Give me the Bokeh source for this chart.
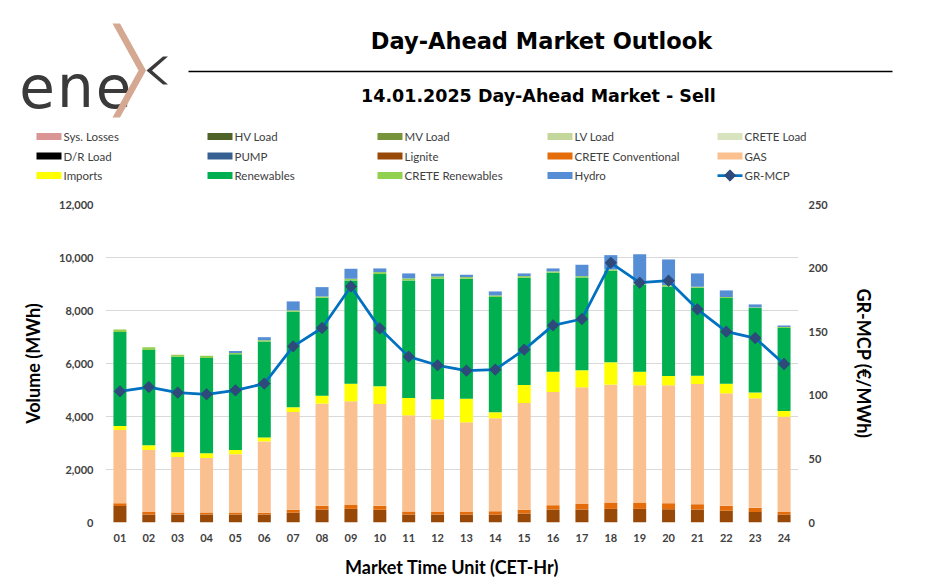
from bokeh.plotting import figure
from bokeh.models import Range1d, FactorRange, LinearAxis, NumeralTickFormatter, FixedTicker, ColumnDataSource
from bokeh.layouts import column
from bokeh.embed import file_html
from bokeh.resources import INLINE
from bokeh.core.properties import value

# ---------------- data ----------------
hours = ["01", "02", "03", "04", "05", "06", "07", "08", "09", "10", "11", "12",
         "13", "14", "15", "16", "17", "18", "19", "20", "21", "22", "23", "24"]

sys_losses = [0, 0, 0, 0, 0, 0, 0, 0, 0, 0, 0, 0, 0, 0, 0, 0, 0, 0, 0, 0, 0, 0, 0, 0]
hv_load = [0, 0, 0, 0, 0, 0, 0, 0, 0, 0, 0, 0, 0, 0, 0, 0, 0, 0, 0, 0, 0, 0, 0, 0]
mv_load = [0, 0, 0, 0, 0, 0, 0, 0, 0, 0, 0, 0, 0, 0, 0, 0, 0, 0, 0, 0, 0, 0, 0, 0]
lv_load = [0, 0, 0, 0, 0, 0, 0, 0, 0, 0, 0, 0, 0, 0, 0, 0, 0, 0, 0, 0, 0, 0, 0, 0]
crete_load = [0, 0, 0, 0, 0, 0, 0, 0, 0, 0, 0, 0, 0, 0, 0, 0, 0, 0, 0, 0, 0, 0, 0, 0]
dr_load = [0, 0, 0, 0, 0, 0, 0, 0, 0, 0, 0, 0, 0, 0, 0, 0, 0, 0, 0, 0, 0, 0, 0, 0]
pump = [0, 0, 0, 0, 0, 0, 0, 0, 0, 0, 0, 0, 0, 0, 0, 0, 0, 0, 0, 0, 0, 0, 0, 0]
lignite = [626, 301, 301, 301, 301, 301, 364, 489, 514, 477, 301, 301,
           301, 301, 339, 489, 489, 514, 514, 501, 489, 439, 400, 301]
crete_conv = [101, 99, 76, 76, 76, 70, 113, 139, 151, 151, 114, 99,
              99, 124, 138, 163, 213, 239, 226, 226, 201, 189, 152, 99]
gas = [2764, 2337, 2096, 2059, 2198, 2689, 3694, 3857, 3908, 3844, 3630, 3494,
       3381, 3507, 4033, 4272, 4399, 4449, 4437, 4450, 4537, 4246, 4134, 3595]
imports = [151, 177, 177, 176, 162, 151, 175, 301, 667, 667, 654, 754,
           893, 226, 678, 769, 641, 841, 516, 351, 314, 366, 215, 214]
renewables = [3544, 3594, 3608, 3595, 3608, 3619, 3607, 3696, 3895, 4235, 4436, 4550,
              4524, 4349, 4048, 3732, 3506, 3457, 3291, 3381, 3318, 3229, 3190, 3128]
crete_ren = [101, 101, 75, 88, 50, 50, 51, 50, 63, 75, 75, 88,
             63, 63, 62, 49, 50, 50, 38, 50, 38, 38, 26, 38]
hydro = [0, 0, 0, 0, 76, 113, 339, 350, 377, 139, 189, 101,
         88, 150, 101, 114, 428, 539, 1105, 968, 502, 251, 113, 63]
gr_mcp = [103.1, 106.5, 102.1, 100.8, 103.9, 109.2, 138.5, 152.9, 185.6, 152.6, 130.4, 123.6,
          119.4, 120.2, 135.9, 155.0, 160.0, 204.2, 188.5, 190.1, 167.6, 150.0, 145.0, 124.6]

series_names = ["Sys. Losses", "HV Load", "MV Load", "LV Load", "CRETE Load",
                "D/R Load", "PUMP", "Lignite", "CRETE Conventional", "GAS",
                "Imports", "Renewables", "CRETE Renewables", "Hydro"]
series_values = [sys_losses, hv_load, mv_load, lv_load, crete_load,
                 dr_load, pump, lignite, crete_conv, gas,
                 imports, renewables, crete_ren, hydro]
series_colors = ["#D99694", "#4F6228", "#77933C", "#C3D69B", "#D7E4BD",
                 "#000000", "#376092", "#984807", "#E46C0A", "#FAC090",
                 "#FFFF00", "#00B050", "#92D050", "#558ED5"]
line_name = "GR-MCP"
line_color = "#0070C0"
marker_color = "#2E4A7A"

left_ticks = [0, 2000, 4000, 6000, 8000, 10000, 12000]
right_ticks = [0, 50, 100, 150, 200, 250]

title_text = "Day-Ahead Market Outlook"
subtitle_text = "14.01.2025  Day-Ahead Market - Sell"

# ---------------- layout constants (page pixels) ----------------
W = 944
HDR_H = 190
CH_H = 392
FL, FR, FT, FB = 105, 798, 204, 522
LABEL_FONT = "Lato"

# ---------------- header (logo, titles, legend) ----------------
hdr = figure(width=W, height=HDR_H, x_range=Range1d(0, W), y_range=Range1d(HDR_H, 0),
             toolbar_location=None, output_backend="svg", min_border=0,
             x_axis_location=None, y_axis_location=None, outline_line_color=None)
hdr.grid.visible = False

# logo
hdr.text(x=[36.5, 75, 113], y=[86, 86, 86], text=["e", "n", "e"],
         text_font=value("DejaVu Sans"), text_font_size="58px", text_color="#3A3A3A",
         text_align="center", text_baseline="alphabetic")
hdr.patch(x=[112, 119.5, 145.5, 119.5, 112, 138], y=[23, 23, 70, 117, 117, 70],
          fill_color="#D5A891", line_color=None)
hdr.patch(x=[162.5, 167.5, 151.5, 167.5, 162.5, 146], y=[56, 56, 70, 84, 84, 70],
          fill_color="#3A3A3A", line_color=None)

# titles
hdr.text(x=[541], y=[40], text=[title_text], text_font=value("DejaVu Sans"),
         text_font_style="bold", text_font_size="22.5px", text_color="#000000",
         text_align="center", text_baseline="middle")
hdr.line(x=[188, 892], y=[71, 71], line_color="#000000", line_width=1.3)
hdr.text(x=[541], y=[95], text=[subtitle_text], text_font=value("DejaVu Sans"),
         text_font_style="bold", text_font_size="17.5px", text_color="#000000",
         text_align="center", text_baseline="middle")

# legend
col_x = [36, 207, 377, 547, 717]
row_y = [136, 155.5, 175]
sw_x, sw_y, sw_c, tx, ty = [], [], [], [], []
for i, c in enumerate(series_colors):
    cx = col_x[i % 5]
    cy = row_y[i // 5]
    sw_x.append(cx + 12.5)
    sw_y.append(cy)
    sw_c.append(c)
    tx.append(cx + 27)
    ty.append(cy)
hdr.rect(x=sw_x, y=sw_y, width=25, height=7, fill_color=sw_c, line_color=None)
i = len(series_names)
lx = col_x[i % 5]
ly = row_y[i // 5]
hdr.line(x=[lx, lx + 25], y=[ly, ly], line_color=line_color, line_width=2.75)
hdr.scatter(x=[lx + 12.5], y=[ly], marker="square", size=8, angle=0.7854,
            fill_color=marker_color, line_color=marker_color)
hdr.text(x=tx + [lx + 27], y=ty + [ly], text=series_names + [line_name],
         text_font=value(LABEL_FONT), text_font_size="11.5px", text_color="#404040",
         text_align="left", text_baseline="middle")

# ---------------- chart ----------------
keys = ["s%d" % k for k in range(len(series_names))]
data = {"hour": hours, "mcp": gr_mcp}
for k, v in zip(keys, series_values):
    data[k] = v
src = ColumnDataSource(data)

p = figure(width=W, height=CH_H, x_range=FactorRange(factors=hours, range_padding=0),
           y_range=Range1d(0, 12000), toolbar_location=None, output_backend="svg",
           min_border_left=FL, min_border_right=W - FR, min_border_top=FT - HDR_H,
           min_border_bottom=HDR_H + CH_H - FB, outline_line_color=None)
p.extra_y_ranges = {"price": Range1d(0, 250)}

p.vbar_stack(keys, x="hour", width=0.45, fill_color=series_colors, line_color=None, source=src)
p.line(x="hour", y="mcp", source=src, y_range_name="price", line_color=line_color, line_width=2.75)
p.scatter(x="hour", y="mcp", source=src, y_range_name="price", marker="square", size=8,
          angle=0.7854, fill_color=marker_color, line_color=marker_color)

p.yaxis.ticker = FixedTicker(ticks=left_ticks)
p.yaxis.formatter = NumeralTickFormatter(format="0,0")
p.yaxis.axis_label = "Volume (MWh)"
p.yaxis.axis_label_standoff = 12
p.yaxis.major_label_standoff = 12

ra = LinearAxis(y_range_name="price", ticker=FixedTicker(ticks=right_ticks),
                axis_label="GR-MCP (€/MWh)")
ra.axis_label_standoff = 22
ra.major_label_standoff = 10
p.add_layout(ra, "right")

p.xaxis.axis_label = "Market Time Unit (CET-Hr)"
p.xaxis.major_label_standoff = 11
p.xaxis.axis_label_standoff = 11

for ax in [p.xaxis[0], p.yaxis[0], ra]:
    ax.axis_line_color = None
    ax.major_tick_line_color = None
    ax.minor_tick_line_color = None
    ax.major_tick_out = 0
    ax.major_tick_in = 0
    ax.minor_tick_out = 0
    ax.minor_tick_in = 0
    ax.major_label_text_font = LABEL_FONT
    ax.major_label_text_font_style = "bold"
    ax.major_label_text_font_size = "11px"
    ax.major_label_text_color = "#404040"
    ax.axis_label_text_font = LABEL_FONT
    ax.axis_label_text_font_style = "bold"
    ax.axis_label_text_color = "#000000"
    ax.axis_label_text_font_size = "18px"

p.xgrid.visible = False
p.ygrid.grid_line_color = "#D9D9D9"
p.ygrid.grid_line_width = 1.2

# keep the header's frame independent of the chart's frame
for f in (hdr, p):
    try:
        f.frame_align = False
    except AttributeError:
        pass

layout = column(hdr, p, spacing=0)
open("out.html", "w").write(file_html(layout, INLINE))
